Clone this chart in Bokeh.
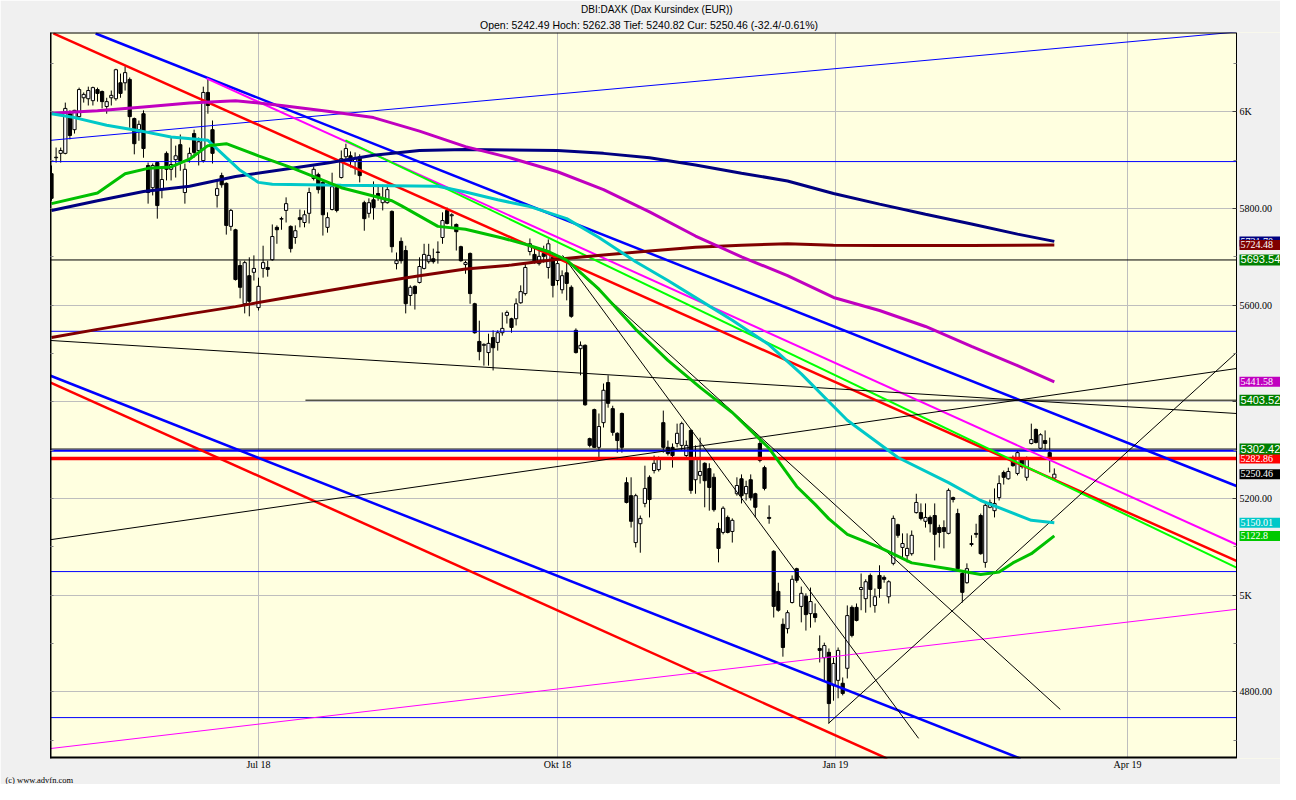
from bokeh.plotting import figure
from bokeh.models import Range1d, FixedTicker, Label, LinearAxis, ColumnDataSource, Title
from bokeh.embed import file_html
from bokeh.resources import INLINE

# ---------------- data ----------------
opens = [5872,5905,5914,5914,5996,5963,5990,6029,6027,6023,6046,6042,6011,6029,6027,6060,6060,6067,5986,5963,
         5996,5889,5843,5895,5839,5914,5881,5901,5932,5833,5903,5955,5920,5899,6040,5963,5827,5868,5852,5763,
         5756,5682,5603,5661,5668,5595,5676,5678,5694,5761,5779,5796,5763,5740,5781,5771,5790,5862,5870,5854,
         5761,5798,5843,5864,5907,5909,5897,5907,5812,5790,5818,5831,5812,5812,5794,5686,5732,5713,5620,5639,
         5647,5676,5690,5696,5709,5740,5796,5785,5767,5721,5684,5707,5603,5525,5517,5502,5533,5523,5543,5579,
         5572,5572,5605,5624,5711,5705,5686,5707,5678,5699,5651,5632,5667,5637,5548,5510,5517,5324,5384,5306,
         5357,5440,5386,5335,5376,5233,5206,5109,5148,5190,5244,5258,5260,5357,5306,5306,5314,5310,5289,5341,
         5239,5248,5273,5262,5244,5138,5130,5161,5132,5210,5241,5210,5239,5210,5314,5264,5161,5091,5008,4940,
         4931,4985,5055,4977,4998,4962,4962,4890,4871,4882,4813,4824,4818,4849,4975,4975,5012,4993,5041,4979,
         5041,5037,4997,5066,5146,5099,5082,5086,5171,5171,5153,5161,5165,5140,5140,5128,5202,5169,5045,5026,
         5105,5128,5165,5068,5182,5175,5202,5254,5241,5283,5252,5283,5244,5314,5343,5304,5320,5295,5242.49]
highs = [5889,5926,5926,6019,6003,6004,6050,6040,6052,6052,6050,6044,6029,6044,6089,6079,6094,6071,5988,5982,
         6003,5895,5893,5895,5883,5918,5949,5930,5953,5893,5926,5963,5947,6052,6069,5982,5858,5874,5854,5799,
         5758,5692,5692,5699,5703,5657,5723,5692,5767,5765,5783,5823,5765,5765,5798,5796,5843,5887,5874,5858,
         5792,5874,5849,5920,5934,5918,5916,5912,5816,5821,5856,5849,5849,5849,5796,5709,5740,5723,5641,5641,
         5699,5727,5727,5717,5732,5792,5802,5790,5769,5723,5692,5709,5605,5568,5521,5541,5548,5548,5585,5589,
         5574,5614,5641,5686,5738,5719,5719,5723,5736,5703,5692,5672,5692,5641,5552,5525,5519,5326,5386,5376,
         5438,5455,5392,5337,5378,5244,5244,5210,5165,5268,5248,5289,5287,5382,5320,5314,5355,5359,5320,5343,
         5310,5326,5275,5273,5252,5150,5184,5165,5159,5244,5250,5237,5250,5212,5326,5268,5186,5093,5026,4952,
         4969,5041,5057,5018,5004,5016,4983,4917,4902,4890,4871,4892,4830,4979,4979,4983,5045,5033,5045,5014,
         5062,5041,5031,5165,5148,5128,5128,5134,5210,5190,5190,5165,5190,5146,5155,5221,5204,5179,5051,5066,
         5124,5148,5169,5192,5198,5221,5248,5258,5264,5289,5299,5285,5287,5355,5345,5335,5341,5326,5262.38]
lows = [5816,5895,5895,5912,5943,5955,5988,6019,6013,6013,6021,6007,5996,6013,6023,6029,6044,5967,5912,5940,
        5905,5810,5827,5779,5821,5858,5858,5864,5878,5810,5895,5905,5889,5895,5996,5893,5802,5843,5746,5754,
        5651,5614,5583,5577,5651,5589,5657,5659,5692,5727,5756,5771,5709,5727,5761,5761,5769,5858,5831,5744,
        5750,5796,5792,5862,5899,5885,5870,5854,5754,5781,5777,5816,5796,5810,5709,5674,5686,5583,5599,5591,
        5645,5674,5686,5686,5686,5727,5767,5759,5713,5690,5665,5603,5541,5486,5475,5475,5465,5506,5537,5562,
        5543,5558,5603,5620,5703,5686,5682,5688,5655,5616,5641,5624,5610,5574,5500,5455,5392,5306,5305,5279,
        5347,5388,5330,5295,5295,5190,5140,5099,5088,5182,5161,5252,5256,5295,5289,5264,5306,5299,5283,5210,
        5210,5231,5182,5175,5173,5068,5126,5128,5109,5206,5190,5196,5196,5161,5275,5217,5148,4954,4966,4873,
        4921,4983,5026,4944,4927,4933,4944,4861,4824,4735,4782,4787,4793,4828,4913,4946,4969,4964,4975,4964,
        4995,5026,4983,5062,5119,5078,5068,5082,5169,5155,5140,5130,5072,5099,5097,5126,5192,5053,4985,5024,
        5101,5119,5084,5057,5180,5161,5196,5229,5239,5266,5248,5262,5237,5312,5314,5302,5299,5254,5240.82]
closes = [5821,5906,5920,6007,5951,6003,6046,6036,6044,6050,6038,6021,6021,6034,6087,6038,6081,5990,5934,5974,
          5924,5833,5889,5806,5860,5881,5891,5909,5899,5881,5914,5916,5938,6040,6013,5914,5841,5849,5765,5796,
          5653,5637,5688,5608,5676,5639,5688,5674,5742,5756,5778,5810,5717,5754,5777,5787,5833,5881,5839,5787,
          5781,5845,5796,5903,5924,5897,5903,5868,5779,5812,5802,5825,5821,5839,5721,5692,5692,5603,5637,5624,
          5680,5705,5703,5690,5710,5775,5769,5787,5752,5692,5688,5624,5543,5504,5519,5521,5512,5543,5552,5585,
          5554,5603,5628,5678,5727,5688,5701,5701,5727,5641,5686,5661,5645,5577,5502,5517,5394,5310,5306,5349,
          5424,5397,5337,5320,5306,5192,5153,5206,5159,5221,5198,5273,5283,5306,5293,5289,5335,5355,5310,5217,
          5283,5256,5237,5223,5177,5097,5180,5130,5155,5227,5206,5225,5202,5182,5279,5221,5159,4977,4969,4892,
          4964,5033,5031,5004,4960,4987,4954,4886,4896,4776,4859,4886,4797,4958,4917,4948,5016,5028,5012,4997,
          5014,5033,5028,5159,5124,5107,5097,5124,5192,5159,5161,5148,5126,5130,5132,5217,5198,5055,5006,5055,
          5107,5126,5086,5186,5192,5190,5231,5244,5256,5268,5295,5266,5285,5322,5316,5332,5314,5282.86,5250.46]

# moving averages (at these candle indices)
ma_idx = [0, 10, 20, 30, 40, 50, 60, 70, 80, 90, 100, 110, 120, 130, 140, 150, 160, 170, 180, 190, 200, 210, 218]
ma_maroon = [5533, 5550, 5566, 5582, 5597, 5614, 5630, 5646, 5661, 5675, 5683, 5695, 5704, 5712, 5720, 5724,
             5727, 5724, 5723.5, 5723.5, 5723.5, 5724, 5724.48]
ma_navy = [5796, 5816, 5835, 5846, 5866, 5880, 5894, 5910, 5920, 5922, 5921, 5920, 5914, 5905, 5890, 5873,
           5857, 5831, 5809, 5788, 5768, 5747, 5732]
ma_purple = [5997, 6002, 6010, 6018, 6023, 6013, 6001, 5988, 5960, 5928, 5904, 5876, 5839, 5793, 5743, 5700,
             5661, 5616, 5589, 5556, 5515, 5475, 5441.58]
cyan_idx = [0, 5, 12, 19, 26, 34, 41, 45, 48, 63, 84, 90, 97, 104, 112, 119, 127, 134, 141, 148, 156, 163,
            173, 184, 195, 202, 213, 218]
ma_cyan = [5996, 5988, 5972, 5961, 5948, 5941, 5879, 5854, 5850, 5848, 5846, 5834, 5818, 5804, 5779, 5740,
           5690, 5651, 5610, 5569, 5518, 5458, 5362, 5285, 5233, 5196, 5155, 5150.01]
green_idx = [0, 10, 16, 21, 26, 30, 34, 38, 45, 52, 63, 74, 76, 84, 90, 98, 103, 108, 112, 119, 127, 134, 141,
             148, 156, 162, 166, 169, 173, 180, 187, 195, 202, 206, 209, 213, 218]
ma_green = [5810, 5832, 5872, 5883, 5886, 5902, 5930, 5934, 5909, 5885, 5843, 5816, 5806, 5763, 5757, 5739,
            5726, 5711, 5693, 5633, 5550, 5486, 5430, 5378, 5304, 5225, 5188, 5158, 5126, 5099, 5067, 5055,
            5043, 5048, 5067, 5086, 5122.8]

# trend lines: start / end (candle index, price)
tl_x0 = [-0.2, 9.6, -0.2, 0.4, -0.2, 33.7, 63.9, -0.2, -0.2, -0.2, 111.1, 111.1, 168.9]
tl_y0 = [5941, 6162, 5454, 6162, 5440, 6069, 5941, 4683, 5527, 5115, 5703, 5699, 4735]
tl_x1 = [257.6, 257.6, 210.7, 257.6, 181.7, 257.6, 257.6, 257.6, 257.6, 257.6, 188.5, 219.3, 257.6]
tl_y1 = [6165, 5226, 4662, 5071, 4662, 5105, 5057, 4971, 5376, 5469, 4704, 4764, 5502]
tl_color = ["#0000FF", "#0000FF", "#0000FF", "#FF0000", "#FF0000", "#FF00FF", "#00FF00", "#FF00FF",
            "#000000", "#000000", "#000000", "#000000", "#000000"]
tl_width = [1, 2.5, 2.5, 2.5, 2.5, 2, 2, 1, 1, 1, 1, 1, 1]

# horizontal levels
h_level = [5897, 5693.54, 5546, 5403.52, 5302.42, 5299, 5282.86, 5049, 4747]
h_start = [-0.217, -0.217, -0.217, 55.2, -0.217, -0.217, -0.217, -0.217, -0.217]
h_color = ["#0000FF", "#000000", "#0000FF", "#000000", "#000000", "#0000FF", "#FF0000", "#0000FF", "#0000FF"]
h_width = [1, 1, 1, 1, 1, 2, 3.5, 1, 1]

# value boxes on the right
box_values = [5731.7, 5724.48, 5693.54, 5441.58, 5403.52, 5282.86, 5302.42, 5250.46, 5150.01, 5122.8]
box_texts = ["5731.70", "5724.48", "5693.54", "5441.58", "5403.52", "5282.86", "5302.42", "5250.46", "5150.01", "5122.8"]
box_colors = ["#000080", "#800000", "#008000", "#C000C0", "#008000", "#FF0000", "#008000", "#000000", "#00C8C8", "#00C800"]
box_big = [False, False, True, False, True, False, True, False, False, False]

xtick_pos = [45.0, 110.0, 170.4, 233.9]
xtick_labels = ["Jul 18", "Okt 18", "Jan 19", "Apr 19"]
ytick_vals = [4800, 5000, 5200, 5400, 5600, 5800, 6000]
ytick_labels = ["4800.00", "5K", "5200.00", "5400.00", "5600.00", "5800.00", "6K"]
yminor = [4700, 4900, 5100, 5300, 5500, 5700, 5900, 6100]

title1 = "DBI:DAXK (Dax Kursindex (EUR))"
title2 = "Open: 5242.49 Hoch: 5262.38 Tief: 5240.82 Cur: 5250.46 (-32.4/-0.61%)"
footer = "(c) www.advfn.com"

X0, XE, X1 = -0.217, 257.6, 267.17   # left edge, price-area right edge, canvas right edge
Y0, Y1 = 4662.4, 6164.0

# ---------------- figure ----------------
p = figure(width=1280, height=784, x_range=Range1d(X0, X1), y_range=Range1d(Y0, Y1),
           output_backend="svg", toolbar_location=None, y_axis_location="right",
           min_border_left=50, min_border_right=0, min_border_top=32, min_border_bottom=26,
           background_fill_color="#FFFFE0", border_fill_color="#F0F0F0")
p.outline_line_color = None

# x axis
p.xaxis.ticker = FixedTicker(ticks=xtick_pos)
p.xaxis.major_label_overrides = dict(zip(xtick_pos, xtick_labels))
p.xaxis.major_tick_line_color = None
p.xaxis.minor_tick_line_color = None
p.xaxis.major_tick_in = 0
p.xaxis.major_tick_out = 0
p.xaxis.minor_tick_in = 0
p.xaxis.minor_tick_out = 0
p.xaxis.axis_line_color = None
p.xaxis.major_label_text_font = "Liberation Sans Narrow"
p.xaxis.major_label_text_font_size = "10px"
p.xaxis.major_label_text_color = "black"
p.xaxis.major_label_standoff = 0

# right price axis, drawn at the edge of the price area
p.yaxis.fixed_location = XE
p.yaxis.ticker = FixedTicker(ticks=ytick_vals, minor_ticks=yminor)
p.yaxis.major_label_overrides = dict(zip(ytick_vals, ytick_labels))
p.yaxis.axis_line_color = "black"
p.yaxis.axis_line_width = 1
p.yaxis.major_tick_in = 4
p.yaxis.major_tick_out = 0
p.yaxis.minor_tick_in = 3
p.yaxis.minor_tick_out = 0
p.yaxis.major_tick_line_color = "#404040"
p.yaxis.minor_tick_line_color = "#808080"
p.yaxis.major_label_text_font = "Liberation Serif"
p.yaxis.major_label_text_font_size = "10px"
p.yaxis.major_label_text_color = "black"
p.yaxis.major_label_standoff = 3

left_ax = LinearAxis(ticker=FixedTicker(ticks=ytick_vals, minor_ticks=yminor),
                     major_tick_in=3, major_tick_out=0, minor_tick_in=3, minor_tick_out=0,
                     major_label_text_color=None, major_label_standoff=0,
                     axis_line_color="black", axis_line_width=1,
                     major_tick_line_color="#808080", minor_tick_line_color="#808080")
p.add_layout(left_ax, "left")

p.xgrid.ticker = FixedTicker(ticks=xtick_pos)
p.ygrid.ticker = FixedTicker(ticks=ytick_vals)
p.xgrid.grid_line_color = "#BEBEBE"
p.ygrid.grid_line_color = "#BEBEBE"

# candles
idx = list(range(len(opens)))
p.segment(x0=idx, y0=lows, x1=idx, y1=highs, line_color="black", line_width=1)
up = [i for i in idx if closes[i] >= opens[i]]
dn = [i for i in idx if closes[i] < opens[i]]
p.vbar(x=up, top=[closes[i] for i in up], bottom=[opens[i] for i in up], width=0.7,
       fill_color="white", line_color="black", line_width=1)
p.vbar(x=dn, top=[opens[i] for i in dn], bottom=[closes[i] for i in dn], width=0.7,
       fill_color="black", line_color="black", line_width=1)

# horizontal levels
hsrc = ColumnDataSource(dict(x0=h_start, x1=[XE] * len(h_level), y=h_level, c=h_color, w=h_width))
p.segment(x0="x0", y0="y", x1="x1", y1="y", line_color="c", line_width="w", source=hsrc)

# trend lines
tsrc = ColumnDataSource(dict(x0=tl_x0, y0=tl_y0, x1=tl_x1, y1=tl_y1, c=tl_color, w=tl_width))
p.segment(x0="x0", y0="y0", x1="x1", y1="y1", line_color="c", line_width="w", source=tsrc)

# moving averages
p.line(ma_idx, ma_maroon, line_color="#800000", line_width=3)
p.line(ma_idx, ma_navy, line_color="#000080", line_width=3)
p.line(ma_idx, ma_purple, line_color="#C000C0", line_width=3)
p.line(cyan_idx, ma_cyan, line_color="#00C8C8", line_width=3)
p.line(green_idx, ma_green, line_color="#00C000", line_width=3)

# grey label strip right of the price area, and the frame border of the price area
p.quad(left=[XE], right=[X1], bottom=[Y0], top=[Y1], fill_color="#F0F0F0", line_color=None)
p.segment(x0=[X0, X0, X0], y0=[Y1, Y0, Y0], x1=[XE, XE, X0], y1=[Y1, Y0, Y1],
          line_color="black", line_width=[2, 4, 2])

# value boxes
bx = 258.26
for v, t, c, big in zip(box_values, box_texts, box_colors, box_big):
    p.add_layout(Label(x=bx, y=v, text=t, text_color="white", background_fill_color=c,
                       text_font="Liberation Sans" if big else "Liberation Serif",
                       text_font_size="11px" if big else "10px",
                       text_align="left", text_baseline="middle",
                       padding=(1, 40, 1, 2)))

# titles and footer
p.add_layout(Title(text=title2, align="left", offset=429.5, standoff=4, text_font="Liberation Sans",
                   text_font_size="10.5px", text_font_style="normal", text_color="black"), "above")
p.add_layout(Title(text=title1, align="left", offset=530.5, standoff=0, text_font="Liberation Sans",
                   text_font_size="10px", text_font_style="normal", text_color="black"), "above")
p.add_layout(Title(text=footer, align="left", offset=-45, standoff=0, text_font="Liberation Sans Narrow",
                   text_font_size="8.5px", text_font_style="normal", text_color="black"), "below")

open("out.html", "w").write(file_html(p, INLINE))
